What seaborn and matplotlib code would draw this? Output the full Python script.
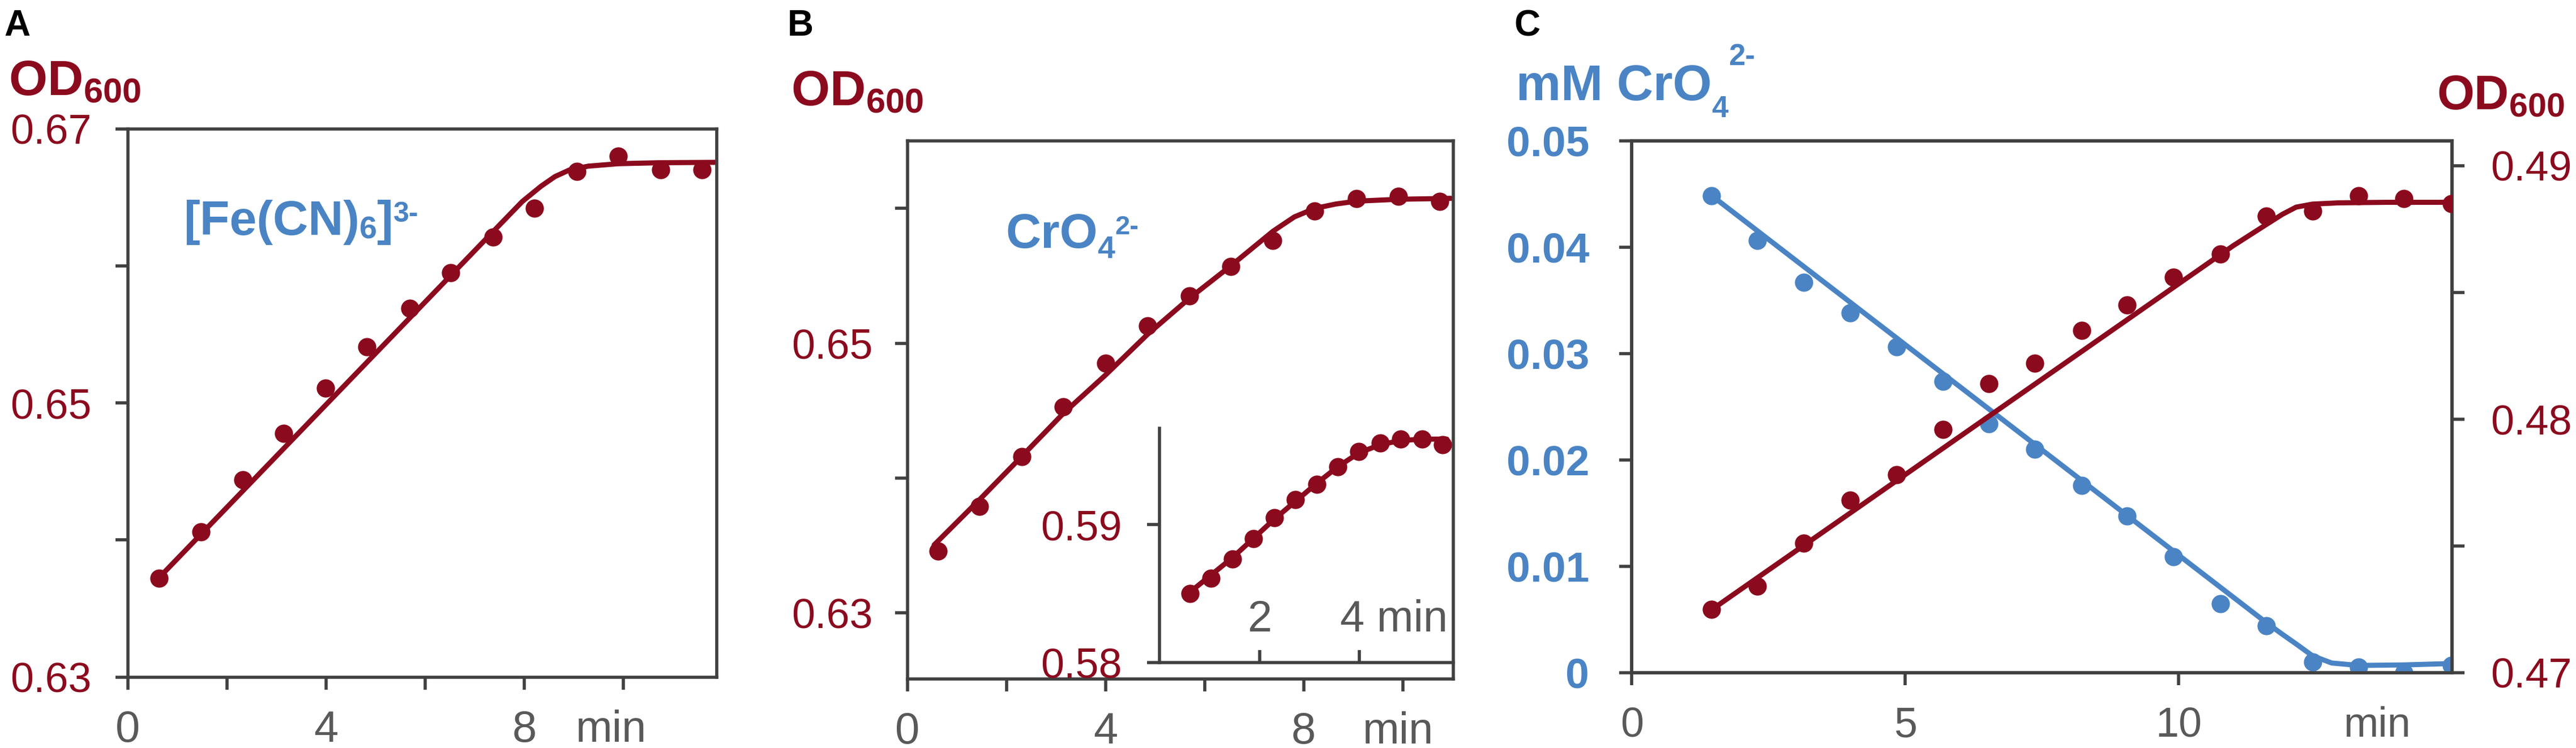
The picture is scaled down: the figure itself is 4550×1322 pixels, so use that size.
import matplotlib
matplotlib.use("Agg")
import matplotlib.pyplot as plt
import seaborn as sns

# ---------------- data ----------------
# Panel A  ([Fe(CN)6]3-)
a_time = [0.63, 1.48, 2.32, 3.15, 3.99, 4.83, 5.69, 6.52, 7.37, 8.21, 9.06, 9.90, 10.75, 11.59]
a_od = [0.6372, 0.6406, 0.6444, 0.6478, 0.6511, 0.6541, 0.6569, 0.6595, 0.6621, 0.6642,
        0.6669, 0.6680, 0.6670, 0.6670]
a_fit_time = [0.63, 7.37, 7.96, 8.34, 8.62, 8.91, 9.29, 9.90, 10.71, 11.85]
a_fit_od = [0.63725, 0.6625, 0.6647, 0.66582, 0.66652, 0.66700, 0.66728, 0.66746, 0.66753, 0.66756]

# Panel B  (CrO4 2-)
b_time = [0.62, 1.46, 2.31, 3.15, 4.00, 4.85, 5.69, 6.53, 7.38, 8.22, 9.07, 9.91, 10.75]
b_od = [0.6346, 0.6379, 0.6416, 0.6453, 0.6485, 0.6513, 0.6535, 0.6557, 0.6576, 0.6598,
        0.6607, 0.6609, 0.6605]
b_fit_time = [0.54, 1.46, 2.31, 3.15, 4.00, 4.85, 5.69, 6.53, 7.38, 7.81, 8.22, 8.65, 9.07, 9.91, 10.97]
b_fit_od = [0.63504, 0.63841, 0.64161, 0.64480, 0.64764, 0.65066, 0.65332, 0.65574, 0.65830,
            0.65936, 0.65999, 0.66032, 0.66053, 0.66067, 0.66074]

# Panel B inset
i_time = [0.61, 1.03, 1.46, 1.88, 2.30, 2.72, 3.15, 3.57, 3.99, 4.42, 4.83, 5.26, 5.67]
i_od = [0.5850, 0.5861, 0.5875, 0.5890, 0.5905, 0.5918, 0.5929, 0.5942, 0.5953, 0.5959,
        0.5962, 0.5962, 0.5958]
i_fit_time = [0.61, 1.46, 2.30, 3.15, 3.57, 3.99, 4.42, 4.83, 5.26, 5.75]
i_fit_od = [0.5851, 0.5876, 0.5904, 0.5930, 0.5942, 0.5952, 0.5958, 0.5961, 0.5962, 0.5962]

# Panel C
c_time = [1.46, 2.30, 3.14, 3.99, 4.84, 5.69, 6.53, 7.37, 8.23, 9.06, 9.91, 10.76, 11.60,
          12.45, 13.29, 14.12, 14.99]
c_cro4 = [0.0448, 0.0406, 0.0367, 0.0338, 0.0306, 0.0274, 0.0234, 0.0210, 0.0176, 0.0147,
          0.0109, 0.0065, 0.0044, 0.0010, 0.0005, 0.0000, 0.0007]
c_od = [0.4725, 0.4734, 0.4751, 0.4768, 0.4778, 0.4796, 0.4814, 0.4822, 0.4835, 0.4845,
        0.4856, 0.4865, 0.4880, 0.4882, 0.4888, 0.4887, 0.4885]
c_fit_time_cro4 = [1.46, 11.60, 11.90, 12.15, 12.45, 12.80, 13.29, 14.13, 14.99]
c_fit_cro4 = [0.04484, 0.00471, 0.00359, 0.00269, 0.00157, 0.00090, 0.00067, 0.00072, 0.00085]
c_fit_time_od = [1.46, 11.00, 11.60, 11.90, 12.15, 12.45, 12.93, 13.80, 14.99]
c_fit_od = [0.47248, 0.48684, 0.48767, 0.48808, 0.48836, 0.48848, 0.48853, 0.48855, 0.48855]

# tick labels
a_yticks = [0.63, 0.64, 0.65, 0.66, 0.67]
a_ylabels = ["0.63", "", "0.65", "", "0.67"]
ab_xticks = [0, 2, 4, 6, 8, 10]
ab_xlabels = ["0", "", "4", "", "8", ""]
b_yticks = [0.63, 0.64, 0.65, 0.66]
b_ylabels = ["0.63", "", "0.65", ""]
i_yticks = [0.58, 0.59]
i_ylabels = ["0.58", "0.59"]
c_xticks = [0, 5, 10]
c_xlabels = ["0", "5", "10"]
c_lticks = [0, 0.01, 0.02, 0.03, 0.04, 0.05]
c_llabels = ["0", "0.01", "0.02", "0.03", "0.04", "0.05"]
c_rticks = [0.47, 0.475, 0.48, 0.485, 0.49]
c_rlabels = ["0.47", "", "0.48", "", "0.49"]

# ---------------- style ----------------
RED = "#8B0A1E"
BLUE = "#4A84C4"
GREY = "#595959"
SPINE = "#404040"

sns.set_theme(style="ticks")
plt.rcParams["font.family"] = ["Liberation Sans", "DejaVu Sans"]
plt.rcParams["mathtext.default"] = "regular"

W, H = 4550, 1322
fig = plt.figure(figsize=(W / 100, H / 100), dpi=100)
renderer = fig.canvas.get_renderer()


def box(l, t, r, b):
    return [l / W, 1 - b / H, (r - l) / W, (b - t) / H]


def ftext(x, y, s, **kw):
    return fig.text(x / W, 1 - y / H, s, ha="left", va="baseline", **kw)


def chain(x, y, pieces, color):
    """pieces: (text, baseline_offset_px, fontsize); placed left to right."""
    for s, dy, size in pieces:
        t = ftext(x, y + dy, s, fontsize=size, fontweight="bold", color=color)
        bb = t.get_window_extent(renderer)
        x = bb.x1


LW = 6.5
MS = 540
TL = 16
TW = 4
FSY = 53
FSX = 56


def frame(ax):
    for s in ax.spines.values():
        s.set_color(SPINE)
        s.set_linewidth(TW)
    ax.tick_params(which="both", direction="out", length=TL, width=TW, color=SPINE)
    ax.set_xlabel("")
    ax.set_ylabel("")


def draw(ax, fx, fy, px, py, color):
    sns.lineplot(x=fx, y=fy, ax=ax, color=color, linewidth=LW, estimator=None, zorder=2)
    sns.scatterplot(x=px, y=py, ax=ax, color=color, s=MS, linewidth=0, zorder=3)


# ---------------- Panel A ----------------
axA = fig.add_axes(box(225.7, 227.8, 1265.6, 1196.7))
draw(axA, a_fit_time, a_fit_od, a_time, a_od, RED)
axA.set_xlim(0, 11.88)
axA.set_ylim(0.63, 0.67)
frame(axA)
axA.set_yticks(a_yticks, a_ylabels)
axA.set_xticks(ab_xticks, ab_xlabels)
axA.set_xticks([9.75], ["min"], minor=True)
axA.tick_params(axis="y", labelsize=FSY, labelcolor=RED, pad=30)
axA.tick_params(axis="x", which="both", labelsize=FSX, labelcolor=GREY, pad=25)
axA.tick_params(axis="x", which="minor", width=0)

# ---------------- Panel B ----------------
axB = fig.add_axes(box(1602.7, 249, 2567, 1200))
draw(axB, b_fit_time, b_fit_od, b_time, b_od, RED)
axB.set_xlim(0, 11.02)
axB.set_ylim(0.6251, 0.665)
frame(axB)
axB.set_yticks(b_yticks, b_ylabels)
axB.set_xticks(ab_xticks, ab_xlabels)
axB.set_xticks([9.9], ["min"], minor=True)
axB.tick_params(axis="y", labelsize=FSY, labelcolor=RED, pad=28)
axB.tick_params(axis="x", which="both", labelsize=FSX, labelcolor=GREY, pad=25)
axB.tick_params(axis="x", which="minor", width=0)

# inset
axI = fig.add_axes(box(2048, 756.6, 2567, 1170.8))
axI.patch.set_alpha(0)
draw(axI, i_fit_time, i_fit_od, i_time, i_od, RED)
axI.set_xlim(0, 5.88)
axI.set_ylim(0.58, 0.597)
frame(axI)
axI.spines["top"].set_visible(False)
axI.spines["right"].set_visible(False)
axI.set_yticks(i_yticks, i_ylabels)
axI.tick_params(axis="y", labelsize=FSY, labelcolor=RED, pad=32)
axI.set_xticks([2, 4], ["", ""])
axI.tick_params(axis="x", direction="in", length=TL)
xt = axI.get_xaxis_transform()
axI.text(2.0, 0.133, "2", transform=xt, ha="center", va="baseline", fontsize=FSX, color=GREY)
axI.text(4.69, 0.133, "4 min", transform=xt, ha="center", va="baseline", fontsize=FSX, color=GREY)

# ---------------- Panel C ----------------
axC = fig.add_axes(box(2882.3, 248.7, 4331, 1188.7))
sns.lineplot(x=c_fit_time_cro4, y=c_fit_cro4, ax=axC, color=BLUE, linewidth=LW, estimator=None)
sns.scatterplot(x=c_time, y=c_cro4, ax=axC, color=BLUE, s=MS, linewidth=0, zorder=3)
axC.set_xlim(0, 15)
axC.set_ylim(0, 0.05)
frame(axC)
axC.set_yticks(c_lticks, c_llabels)
axC.set_xticks(c_xticks, c_xlabels)
axC.set_xticks([13.63], ["min"], minor=True)
axC.tick_params(axis="y", labelsize=54, labelcolor=BLUE, pad=38)
for lab in axC.get_yticklabels():
    lab.set_fontweight("bold")
axC.tick_params(axis="x", which="both", labelsize=53, labelcolor=GREY, pad=27)
axC.tick_params(axis="x", which="minor", width=0)

axC2 = axC.twinx()
axC2.set_position(box(2882.3, 248.7, 4331, 1188.7))
sns.lineplot(x=c_fit_time_od, y=c_fit_od, ax=axC2, color=RED, linewidth=LW, estimator=None)
sns.scatterplot(x=c_time, y=c_od, ax=axC2, color=RED, s=MS, linewidth=0, zorder=3)
axC2.set_xlim(0, 15)
axC2.set_ylim(0.47, 0.49098)
frame(axC2)
axC2.set_yticks(c_rticks, c_rlabels)
axC2.tick_params(axis="y", labelsize=FSY, labelcolor=RED, pad=33, right=True, left=False)

# ---------------- titles / axis headings ----------------
ftext(7, 63, "A", fontsize=46, fontweight="bold", color="black")
ftext(1391, 63, "B", fontsize=46, fontweight="bold", color="black")
ftext(2674, 63, "C", fontsize=46, fontweight="bold", color="black")

ftext(15, 169, "OD$_{600}$", fontsize=63, fontweight="bold", color=RED)
ftext(1397, 187, "OD$_{600}$", fontsize=63, fontweight="bold", color=RED)
ftext(4304, 193, "OD$_{600}$", fontsize=61, fontweight="bold", color=RED)

# ion labels: sub/superscripts as separate bold pieces
chain(324, 415, [("[Fe(CN)", 0, 62), ("6", 7, 40), ("]", 0, 62), ("3-", -23, 36)], BLUE)
chain(1776, 438, [("CrO", 0, 62), ("4", 18, 40), ("2-", -24, 34)], BLUE)
chain(2678, 177, [("mM CrO", 0, 64), ("4", 30, 38), ("2-", -62, 38)], BLUE)

fig.savefig("out.png", dpi=100)
